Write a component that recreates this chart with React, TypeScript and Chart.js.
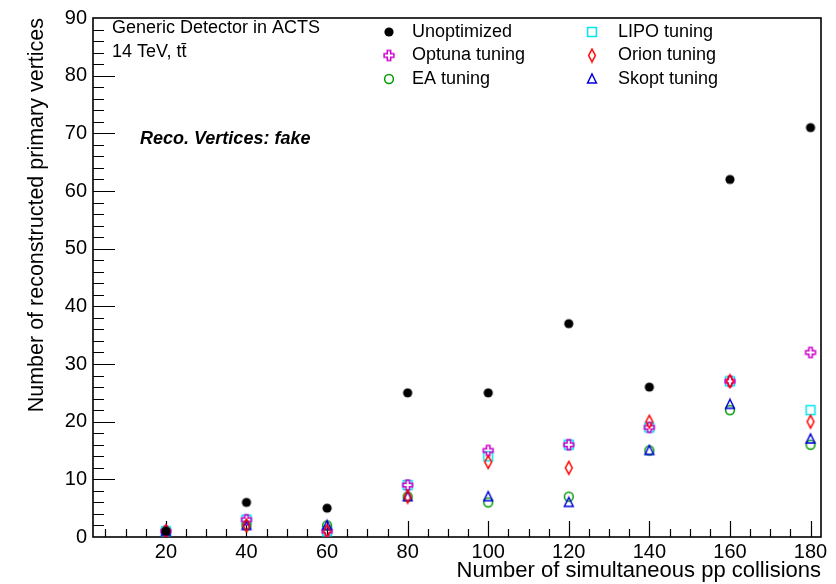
import React, { useEffect, useRef } from "react";
import { Chart, registerables } from "chart.js";

Chart.register(...registerables);

// ---- data ----
const collisions = [20, 40, 60, 80, 100, 120, 140, 160, 180];
const unoptimized = [1, 6, 5, 25, 25, 37, 26, 62, 71];
const optuna = [1, 3, 1, 9, 15, 16, 19, 27, 32];
const eaTuning = [1, 2, 2, 7, 6, 7, 15, 22, 16];
const lipo = [1, 3, 1, 9, 14, 16, 19, 27, 22];
const orion = [1, 2, 1, 7, 13, 12, 20, 27, 20];
const skopt = [1, 2, 2, 7, 7, 6, 15, 23, 17];

const xTickValues = [20, 40, 60, 80, 100, 120, 140, 160, 180];
const yTickValues = [0, 10, 20, 30, 40, 50, 60, 70, 80, 90];
const xTitle = "Number of simultaneous pp collisions";
const yTitle = "Number of reconstructed primary vertices";
const infoLines = ["Generic Detector in ACTS", "14 TeV, t\u0074\u0304"];
const plotLabel = "Reco. Vertices: fake";

const FONT = "'Liberation Sans', Arial, Helvetica, sans-serif";

type Kind = "dot" | "cross" | "circle" | "square" | "diamond" | "triangle";

function makeMarker(kind: Kind, color: string): HTMLCanvasElement {
  const c = document.createElement("canvas");
  let w = 14, h = 14;
  if (kind === "diamond") { w = 10; h = 16; }
  c.width = w; c.height = h;
  const g = c.getContext("2d")!;
  g.strokeStyle = color;
  g.fillStyle = color;
  g.lineWidth = 1.5;
  const cx = w / 2, cy = h / 2;
  g.beginPath();
  switch (kind) {
    case "dot":
      g.arc(cx, cy, 4.6, 0, Math.PI * 2);
      g.fill();
      break;
    case "circle":
      g.arc(cx, cy, 4.4, 0, Math.PI * 2);
      g.stroke();
      break;
    case "square":
      g.rect(cx - 4.4, cy - 4.4, 8.8, 8.8);
      g.stroke();
      break;
    case "triangle":
      g.moveTo(cx, cy - 5);
      g.lineTo(cx + 4.4, cy + 3.9);
      g.lineTo(cx - 4.4, cy + 3.9);
      g.closePath();
      g.stroke();
      break;
    case "diamond":
      g.moveTo(cx, cy - 6.4);
      g.lineTo(cx + 3.4, cy);
      g.lineTo(cx, cy + 6.4);
      g.lineTo(cx - 3.4, cy);
      g.closePath();
      g.stroke();
      break;
    case "cross": {
      const a = 4.9, b = 1.7;
      const pts = [
        [-b, -a], [b, -a], [b, -b], [a, -b], [a, b], [b, b],
        [b, a], [-b, a], [-b, b], [-a, b], [-a, -b], [-b, -b],
      ];
      pts.forEach(([px, py], i) => (i === 0 ? g.moveTo(cx + px, cy + py) : g.lineTo(cx + px, cy + py)));
      g.closePath();
      g.stroke();
      break;
    }
  }
  return c;
}

export default function App() {
  const ref = useRef<HTMLCanvasElement | null>(null);

  useEffect(() => {
    const canvas = ref.current;
    if (!canvas) return;

    const series = [
      { label: "Unoptimized", data: unoptimized, kind: "dot" as Kind, color: "#000000", order: 0 },
      { label: "Optuna tuning", data: optuna, kind: "cross" as Kind, color: "#cc00cc", order: 3 },
      { label: "EA tuning", data: eaTuning, kind: "circle" as Kind, color: "#009900", order: 5 },
      { label: "LIPO tuning", data: lipo, kind: "square" as Kind, color: "#00e5ee", order: 6 },
      { label: "Orion tuning", data: orion, kind: "diamond" as Kind, color: "#ff0000", order: 1 },
      { label: "Skopt tuning", data: skopt, kind: "triangle" as Kind, color: "#0000dd", order: 2 },
    ].map((s) => ({ ...s, img: makeMarker(s.kind, s.color) }));

    const frameTicks = {
      id: "frameTicks",
      beforeDatasetsDraw(chart: any) {
        const { ctx, chartArea: a, scales } = chart;
        const x = scales.x, y = scales.y;
        ctx.save();
        ctx.strokeStyle = "#000";
        ctx.lineWidth = 1.2;
        ctx.beginPath();
        for (let v = 5; v <= 182; v += 5) {
          const px = Math.round(x.getPixelForValue(v)) + 0.5;
          const len = v % 20 === 0 ? 16 : 8;
          ctx.moveTo(px, a.bottom);
          ctx.lineTo(px, a.bottom - len);
        }
        for (let v = 2; v < 90; v += 2) {
          const py = Math.round(y.getPixelForValue(v)) + 0.5;
          const len = v % 10 === 0 ? 22 : 11;
          ctx.moveTo(a.left, py);
          ctx.lineTo(a.left + len, py);
        }
        ctx.stroke();
        ctx.lineWidth = 1.6;
        ctx.strokeRect(a.left, a.top, a.right - a.left, a.bottom - a.top);
        ctx.restore();
      },
      afterDraw(chart: any) {
        const { ctx } = chart;
        ctx.save();
        ctx.fillStyle = "#000";
        ctx.textAlign = "left";
        ctx.textBaseline = "alphabetic";
        ctx.font = `18px ${FONT}`;
        ctx.fillText(infoLines[0], 112, 33);
        ctx.fillText(infoLines[1], 112, 57);
        ctx.font = `italic bold 18px ${FONT}`;
        ctx.fillText(plotLabel, 140, 144);
        ctx.font = `18px ${FONT}`;
        ctx.textBaseline = "middle";
        const rows = [32, 55.5, 79];
        const cols = [{ m: 389, t: 412 }, { m: 592, t: 618 }];
        series.forEach((s, i) => {
          const col = cols[Math.floor(i / 3)];
          const ry = rows[i % 3];
          ctx.drawImage(s.img, col.m - s.img.width / 2, ry - s.img.height / 2);
          ctx.fillText(s.label, col.t, ry);
        });
        ctx.restore();
      },
    };

    const chart = new Chart(canvas, {
      type: "scatter",
      data: {
        datasets: series.map((s) => ({
          label: s.label,
          data: collisions.map((c, i) => ({ x: c, y: s.data[i] })),
          pointStyle: s.img as any,
          pointRadius: 5,
          pointHoverRadius: 5,
          backgroundColor: s.color,
          borderColor: s.color,
          order: s.order,
        })),
      },
      options: {
        responsive: false,
        animation: false,
        devicePixelRatio: 1,
        layout: { padding: { left: 0, top: 13, right: 15, bottom: 0 } },
        plugins: { legend: { display: false }, tooltip: { enabled: false } },
        scales: {
          x: {
            type: "linear",
            min: 1.9,
            max: 182.6,
            grid: { display: false, drawTicks: false },
            border: { display: false },
            afterBuildTicks: (scale: any) => {
              scale.ticks = xTickValues.map((v) => ({ value: v }));
            },
            afterFit: (scale: any) => {
              scale.height = 47;
            },
            ticks: {
              padding: 3,
              color: "#000",
              font: { family: FONT, size: 20 },
              maxRotation: 0,
              autoSkip: false,
            },
            title: {
              display: true,
              text: xTitle,
              align: "end",
              color: "#000",
              font: { family: FONT, size: 22 },
              padding: { top: 0, bottom: 0 },
            },
          },
          y: {
            type: "linear",
            min: 0,
            max: 90,
            grid: { display: false, drawTicks: false },
            border: { display: false },
            afterBuildTicks: (scale: any) => {
              scale.ticks = yTickValues.map((v) => ({ value: v }));
            },
            afterFit: (scale: any) => {
              scale.width = 93;
            },
            ticks: {
              padding: 6,
              color: "#000",
              font: { family: FONT, size: 20 },
              autoSkip: false,
            },
            title: {
              display: true,
              text: yTitle,
              align: "end",
              color: "#000",
              font: { family: FONT, size: 21.5 },
              padding: { top: 24, bottom: 0 },
            },
          },
        },
      },
      plugins: [frameTicks],
    });

    return () => chart.destroy();
  }, []);

  return (
    <div style={{ position: "fixed", left: 0, top: 0, width: 836, height: 584, background: "#fff" }}>
      <canvas ref={ref} width={836} height={584} style={{ width: 836, height: 584, display: "block" }} />
    </div>
  );
}
